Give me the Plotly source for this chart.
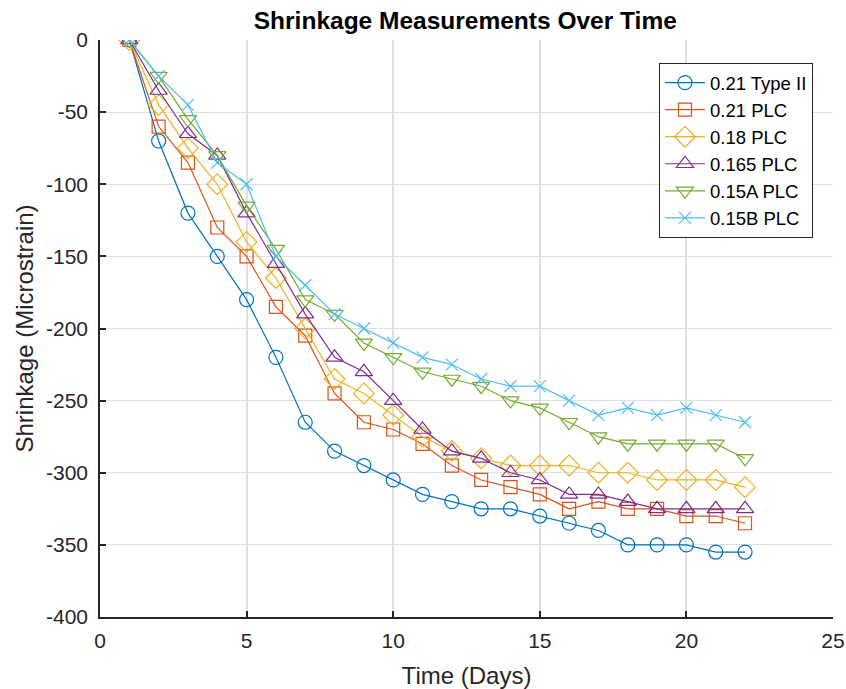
import plotly.graph_objects as go

days = list(range(1, 23))
series_names = ["0.21 Type II", "0.21 PLC", "0.18 PLC", "0.165 PLC", "0.15A PLC", "0.15B PLC"]

type2_021 = [0, -70, -120, -150, -180, -220, -265, -285, -295, -305, -315, -320, -325, -325, -330, -335, -340, -350, -350, -350, -355, -355]
plc_021 = [0, -60, -85, -130, -150, -185, -205, -245, -265, -270, -280, -295, -305, -310, -315, -325, -320, -325, -325, -330, -330, -335]
plc_018 = [0, -45, -75, -100, -140, -165, -200, -235, -245, -260, -275, -285, -290, -295, -295, -295, -300, -300, -305, -305, -305, -310]
plc_0165 = [0, -35, -65, -80, -120, -155, -190, -220, -230, -250, -270, -285, -290, -300, -305, -315, -315, -320, -325, -325, -325, -325]
plc_015a = [0, -25, -55, -80, -115, -145, -180, -190, -210, -220, -230, -235, -240, -250, -255, -265, -275, -280, -280, -280, -280, -290]
plc_015b = [0, -25, -45, -85, -100, -150, -170, -190, -200, -210, -220, -225, -235, -240, -240, -250, -260, -255, -260, -255, -260, -265]

x_ticks = [0, 5, 10, 15, 20, 25]
y_ticks = [-400, -350, -300, -250, -200, -150, -100, -50, 0]

all_series = [type2_021, plc_021, plc_018, plc_0165, plc_015a, plc_015b]
colors = ["#0072BD", "#D95319", "#EDB120", "#7E2F8E", "#77AC30", "#4DBEEE"]
symbols = ["circle-open", "square-open", "diamond-open", "triangle-up-open", "triangle-down-open", "x-thin-open"]
sizes = [14, 13, 16, 15, 15, 12]

fig = go.Figure()
for name, vals, c, s, sz in zip(series_names, all_series, colors, symbols, sizes):
    fig.add_trace(go.Scatter(
        x=days, y=vals, name=name, mode="lines+markers",
        line=dict(color=c, width=1.2),
        marker=dict(symbol=s, size=sz, color=c, line=dict(color=c, width=1.2)),
    ))

font_family = "Liberation Sans, Arial, sans-serif"
fig.update_layout(
    width=846, height=689,
    margin=dict(l=100, r=13, t=40, b=72),
    paper_bgcolor="white", plot_bgcolor="white",
    font=dict(family=font_family, color="#262626", size=21),
    title=dict(text="<b>Shrinkage Measurements Over Time</b>", x=0.55, xanchor="center",
               y=0.971, yanchor="middle", font=dict(size=24.5, color="black")),
    legend=dict(x=0.9727, xanchor="right", y=0.96, yanchor="top",
                bgcolor="white", bordercolor="#262626", borderwidth=1,
                font=dict(size=18.5, color="black"), tracegroupgap=0, itemwidth=40),
    showlegend=True,
)
fig.update_xaxes(
    range=[0, 25], tickvals=x_ticks, ticktext=[str(v) for v in x_ticks],
    showgrid=True, gridcolor="#dfdfdf", gridwidth=2,
    showline=True, linecolor="#262626", linewidth=1.5, mirror=False,
    ticks="inside", ticklen=6, tickcolor="#262626", tickwidth=1.5,
    zeroline=False, ticklabelstandoff=4, automargin=False,
    title=dict(text="Time (Days)", font=dict(size=24), standoff=16),
    tickfont=dict(size=21),
)
fig.update_yaxes(
    range=[-400, 0], tickvals=y_ticks, ticktext=[str(v) for v in y_ticks],
    showgrid=True, gridcolor="#dfdfdf", gridwidth=1,
    showline=True, linecolor="#262626", linewidth=1.5, mirror=False,
    ticks="inside", ticklen=6, tickcolor="#262626", tickwidth=1.5,
    zeroline=False, ticklabelstandoff=6, automargin=False,
    title=dict(text="Shrinkage (Microstrain)", font=dict(size=24), standoff=6),
    tickfont=dict(size=21),
)
fig.write_html("out.html")
